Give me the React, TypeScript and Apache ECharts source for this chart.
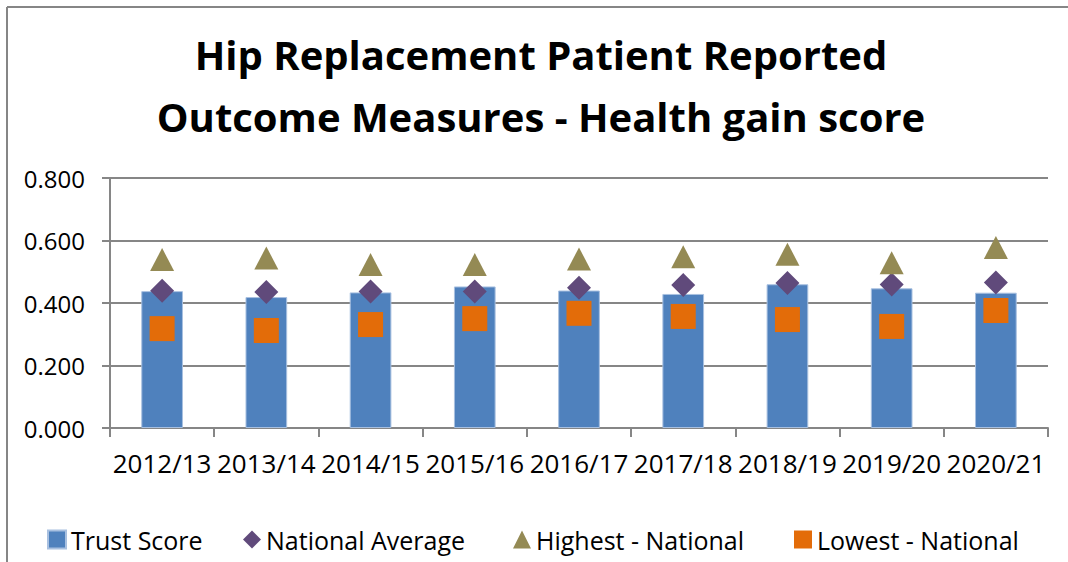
import React, { useEffect, useRef } from "react";
import * as echarts from "echarts";

const categories = ["2012/13", "2013/14", "2014/15", "2015/16", "2016/17", "2017/18", "2018/19", "2019/20", "2020/21"];
const trustScore = [0.438, 0.419, 0.434, 0.453, 0.440, 0.429, 0.460, 0.447, 0.433];
const nationalAverage = [0.439, 0.435, 0.437, 0.437, 0.449, 0.458, 0.464, 0.459, 0.466];
const highestNational = [0.539, 0.544, 0.523, 0.523, 0.541, 0.548, 0.556, 0.529, 0.578];
const lowestNational = [0.318, 0.312, 0.331, 0.350, 0.367, 0.357, 0.347, 0.325, 0.376];
const yTicks = { min: 0, max: 0.8, interval: 0.2 };
const titleText = "Hip Replacement Patient Reported\nOutcome Measures - Health gain score";

const FONT = "'Open Sans', sans-serif";

export default function App() {
  const ref = useRef<HTMLDivElement>(null);
  useEffect(() => {
    document.body.style.margin = "0";
    const chart = echarts.init(ref.current!, undefined, { renderer: "svg" });
    const legendText = { fontFamily: FONT, fontSize: 25, color: "#000" };
    const legendBase = { top: 527, padding: 0, itemHeight: 18, itemWidth: 18, itemGap: 0, textStyle: legendText, selectedMode: false };
    chart.setOption({
      animation: false,
      backgroundColor: "#fff",
      title: {
        text: titleText,
        left: 536,
        top: 18,
        textAlign: "center",
        textStyle: { fontFamily: FONT, fontWeight: "bold", fontSize: 40, lineHeight: 62, color: "#000" },
      },
      graphic: [
        { type: "line", shape: { x1: 7, y1: 7, x2: 1068, y2: 7 }, style: { stroke: "#868686", lineWidth: 2 } },
        { type: "line", shape: { x1: 7, y1: 7, x2: 7, y2: 562 }, style: { stroke: "#868686", lineWidth: 2 } },
      ],
      legend: [
        { ...legendBase, left: 47, data: [{ name: "Trust Score", icon: "rect" }] },
        { ...legendBase, left: 243, data: [{ name: "National Average", icon: "diamond" }] },
        { ...legendBase, left: 513, data: [{ name: "Highest - National", icon: "triangle" }] },
        { ...legendBase, left: 794, data: [{ name: "Lowest - National", icon: "rect" }] },
      ],
      grid: { left: 110, right: 20, top: 178, bottom: 134 },
      xAxis: {
        type: "category",
        data: categories,
        boundaryGap: true,
        axisLine: { lineStyle: { color: "#868686", width: 2 } },
        axisTick: { show: true, length: 9, lineStyle: { color: "#868686", width: 2 } },
        axisLabel: { fontFamily: FONT, fontSize: 26, color: "#000", margin: 22, interval: 0 },
      },
      yAxis: {
        type: "value",
        min: yTicks.min,
        max: yTicks.max,
        interval: yTicks.interval,
        axisLine: { show: true, lineStyle: { color: "#868686", width: 2 } },
        axisTick: { show: true, length: 8, lineStyle: { color: "#868686", width: 2 } },
        splitLine: { lineStyle: { color: "#868686", width: 2 } },
        axisLabel: { fontFamily: FONT, fontSize: 24, color: "#000", margin: 25, formatter: (v: number) => v.toFixed(3) },
      },
      series: [
        {
          name: "Trust Score",
          type: "bar",
          data: trustScore,
          barWidth: "40%",
          itemStyle: { color: "#4f81bd", borderColor: "#a8c0e0", borderWidth: 1 },
        },
        {
          name: "National Average",
          type: "scatter",
          data: nationalAverage,
          symbol: "diamond",
          symbolSize: [24, 24],
          itemStyle: { color: "#604a7b", opacity: 1 },
          z: 3,
        },
        {
          name: "Highest - National",
          type: "scatter",
          data: highestNational,
          symbol: "triangle",
          symbolSize: [24, 23],
          itemStyle: { color: "#948a54", opacity: 1 },
          z: 3,
        },
        {
          name: "Lowest - National",
          type: "scatter",
          data: lowestNational,
          symbol: "rect",
          symbolSize: [25, 25],
          itemStyle: { color: "#e36c09", opacity: 1 },
          z: 3,
        },
      ],
    });
    return () => chart.dispose();
  }, []);
  return <div ref={ref} style={{ width: 1068, height: 562 }} />;
}
